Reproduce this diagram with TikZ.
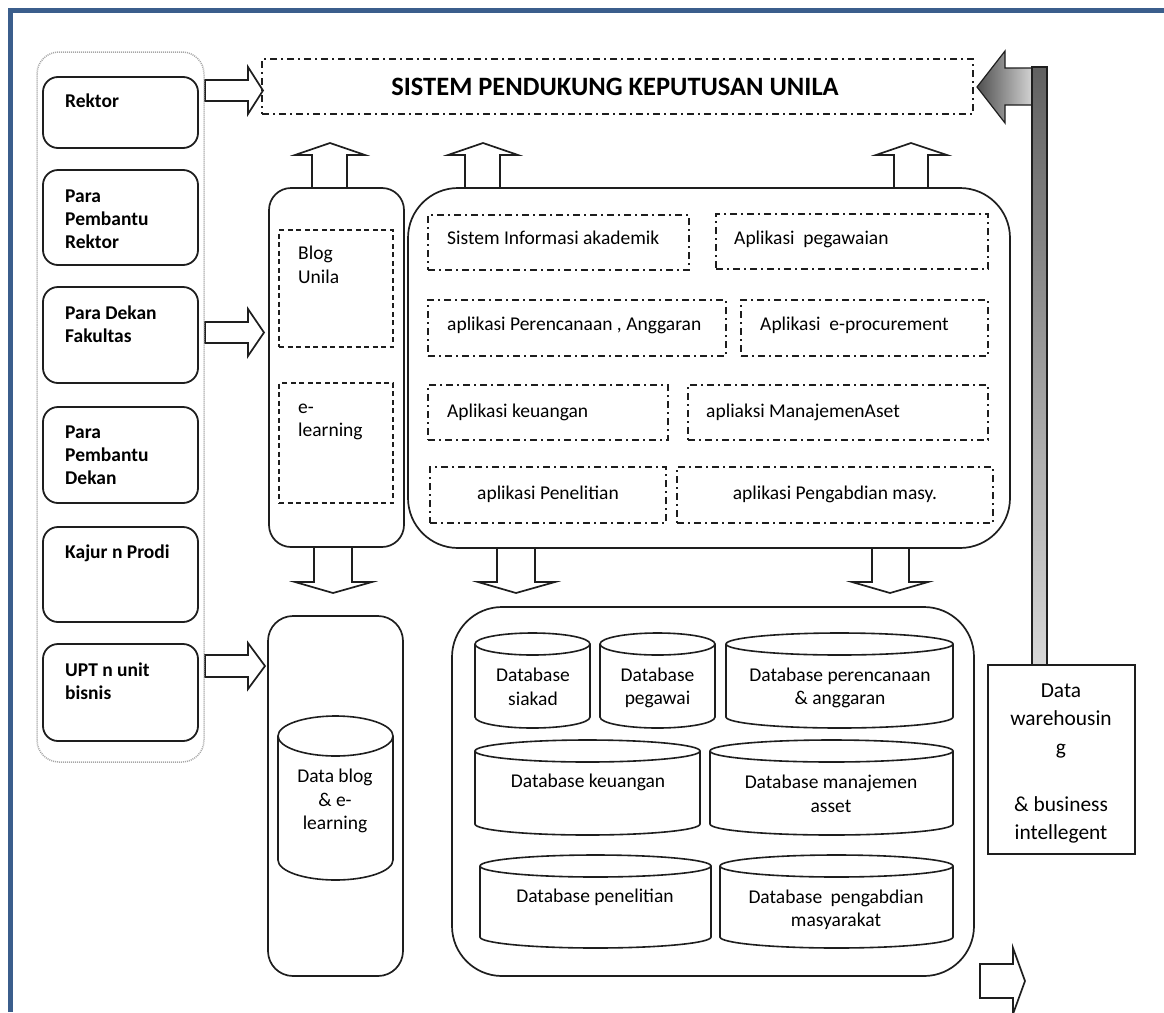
\documentclass[tikz,border=0pt]{standalone}
\usepackage{fontspec}
\setmainfont{Carlito}
\definecolor{bordercol}{RGB}{59,94,140}
\definecolor{ln}{RGB}{30,30,30}
\definecolor{gdark}{RGB}{80,80,80}
\definecolor{glight}{RGB}{215,215,215}
\newcommand\dbcyl[5]{% x1, ytop, x2, ybot, ry
  \draw[cyl] ({#1},{#2+#5}) -- ({#1},{#4-#5})
    .. controls ({#1},{#4-0.448*#5}) and ({(#1+#3)/2-0.552*(#3-#1)/2},{#4}) .. ({(#1+#3)/2},{#4})
    .. controls ({(#1+#3)/2+0.552*(#3-#1)/2},{#4}) and ({#3},{#4-0.448*#5}) .. ({#3},{#4-#5})
    -- ({#3},{#2+#5});
  \draw[cyl] ({(#1+#3)/2},{#2+#5}) ellipse [x radius={(#3-#1)/2}, y radius={#5}];
}
\tikzset{
  lbox/.style={draw=ln, line width=1.8pt, rounded corners=15pt, rectangle, inner sep=0pt},
  cont/.style={draw=gray!70, line width=1.5pt, dash pattern=on 1pt off 1pt, rounded corners=22pt, rectangle, inner sep=0pt},
  ddbox/.style={draw=ln, line width=2.2pt, dash pattern=on 7pt off 4pt on 2pt off 4pt, rectangle, inner sep=0pt},
  dbox/.style={draw=ln, line width=1.7pt, dash pattern=on 5pt off 3.5pt, rectangle, inner sep=0pt},
  bigbox/.style={draw=ln, line width=1.7pt, rounded corners=#1, rectangle, inner sep=0pt},
  harrow/.style={draw=ln, line width=1.7pt, fill=white, line join=miter},
  cyl/.style={draw=ln, line width=1.6pt},
  lt/.style={font=\bfseries\fontsize{19.5}{23}\selectfont, align=left, inner sep=0pt, anchor=north west},
  tt/.style={font=\fontsize{19.5}{23.5}\selectfont, inner sep=0pt},
  one/.style={text height=13pt, text depth=4pt},
}
\begin{document}
\begin{tikzpicture}[x=1pt,y=-1pt]
\useasboundingbox (0,0) rectangle (1164,1012);
\fill[white] (0,0) rectangle (1164,1012);

% ---- hollow arrows (drawn first) ----
\draw[harrow] (205,80) -- (248,80) -- (248,67) -- (263,90.5) -- (248,114) -- (248,101) -- (205,101) -- cycle;
\draw[harrow] (205,322) -- (248,322) -- (248,309) -- (264,332.5) -- (248,356) -- (248,343) -- (205,343) -- cycle;
\draw[harrow] (205,655) -- (248,655) -- (248,643) -- (265,666) -- (248,689) -- (248,677) -- (205,677) -- cycle;

\draw[harrow] (312,188) -- (312,155) -- (295,155) -- (330,143) -- (365,155) -- (347,155) -- (347,188);
\draw[harrow] (465,188) -- (465,155) -- (448,155) -- (483,143) -- (518,155) -- (500,155) -- (500,188);
\draw[harrow] (894,188) -- (894,155) -- (876,155) -- (911,143) -- (947,155) -- (928,155) -- (928,188);

\draw[harrow] (314,547) -- (314,582) -- (295,582) -- (333,593) -- (372,582) -- (352,582) -- (352,547);
\draw[harrow] (497,548) -- (497,582) -- (478,582) -- (516,593) -- (555,582) -- (535,582) -- (535,548);
\draw[harrow] (872,548) -- (872,582) -- (852,582) -- (890,593) -- (928,582) -- (909,582) -- (909,548);

\draw[harrow] (980,964) -- (1013,964) -- (1013,948) -- (1025,981) -- (1013,1014) -- (1013,998) -- (980,998) -- cycle;

% ---- left column ----
\node[cont, minimum width=167pt, minimum height=710pt] (cont) at (120.5,407) {};
\node[lbox, minimum width=155pt, minimum height=71pt] (rektor) at (120.5,112.5) {};
\node[lbox, minimum width=155pt, minimum height=95pt] (ppr) at (120.5,217.5) {};
\node[lbox, minimum width=155pt, minimum height=96pt] (dekan) at (120.5,335) {};
\node[lbox, minimum width=155pt, minimum height=96pt] (ppd) at (120.5,455) {};
\node[lbox, minimum width=155pt, minimum height=95pt] (kajur) at (120.5,574.5) {};
\node[lbox, minimum width=155pt, minimum height=97pt] (upt) at (120.5,692.5) {};
\node[lt] (trektor) at (65,94) {Rektor};
\node[lt] (tppr) at (65,190) {Para\\Pembantu\\Rektor};
\node[lt] (tdekan) at (65,306) {Para Dekan\\Fakultas};
\node[lt] (tppd) at (65,426) {Para\\Pembantu\\Dekan};
\node[lt] (tkajur) at (65,545) {Kajur n Prodi};
\node[lt] (tupt) at (65,663) {UPT n unit\\bisnis};

% ---- title ----
\node[ddbox, minimum width=711pt, minimum height=55pt] (titlebox) at (617.5,86.5) {};
\node[font=\bfseries\fontsize{26.5}{30}\selectfont, inner sep=0pt] (title) at (615,87) {SISTEM PENDUKUNG KEPUTUSAN UNILA};

% ---- blog column ----
\node[bigbox=22pt, minimum width=135pt, minimum height=359pt] (blogcol) at (336.5,367.5) {};
\node[dbox, minimum width=114pt, minimum height=117pt] (blogbox) at (336,288.5) {};
\node[dbox, minimum width=114pt, minimum height=120pt] (elbox) at (336,443) {};
\node[tt, align=left, anchor=north west] (tblog) at (298,246) {Blog\\Unila};
\node[tt, align=left, anchor=north west] (tel) at (298,403.5) {e-\\learning};

\node[bigbox=25pt, minimum width=135pt, minimum height=360pt] (blogdb) at (335.5,796) {};
\dbcyl{278}{716}{393}{880}{20}
\node[tt, align=center] (tblogdb) at (335,801) {Data blog\\\& e-\\learning};

% ---- applications ----
\node[bigbox=50pt, minimum width=602pt, minimum height=360pt] (apps) at (709,368) {};
\node[ddbox, minimum width=261pt, minimum height=55pt] (sia) at (558.5,242.5) {};
\node[ddbox, minimum width=272pt, minimum height=55pt] (peg) at (852,241.5) {};
\node[ddbox, minimum width=298pt, minimum height=56pt] (ren) at (577,328) {};
\node[ddbox, minimum width=247pt, minimum height=56pt] (proc) at (864.5,328) {};
\node[ddbox, minimum width=240pt, minimum height=55pt] (keu) at (548,412.5) {};
\node[ddbox, minimum width=300pt, minimum height=55pt] (aset) at (838,412.5) {};
\node[ddbox, minimum width=236pt, minimum height=56pt] (pen) at (548,495) {};
\node[ddbox, minimum width=316pt, minimum height=56pt] (abd) at (835,495) {};
\node[tt, one, anchor=west] (tsia) at (447,240) {Sistem Informasi akademik};
\node[tt, one, anchor=west] (tpeg) at (734,240) {Aplikasi\ \ pegawaian};
\node[tt, one, anchor=west] (tren) at (447,326) {aplikasi Perencanaan , Anggaran};
\node[tt, one, anchor=west] (tproc) at (760,326) {Aplikasi\ \ e-procurement};
\node[tt, one, anchor=west] (tkeu) at (447,413) {Aplikasi keuangan};
\node[tt, one, anchor=west] (taset) at (706,413) {apliaksi ManajemenAset};
\node[tt, one] (tpen) at (548,495) {aplikasi Penelitian};
\node[tt, one] (tabd) at (835,495) {aplikasi Pengabdian masy.};

% ---- databases ----
\node[bigbox=50pt, minimum width=522pt, minimum height=369pt] (dbs) at (713,791.5) {};
\dbcyl{475}{633}{590}{728}{11}
\dbcyl{600}{633}{715}{728}{11}
\dbcyl{726}{633}{953}{728}{11}
\dbcyl{475}{740}{700}{835}{11}
\dbcyl{710}{740}{953}{835}{11}
\dbcyl{480}{855}{711}{948}{11}
\dbcyl{720}{855}{953}{948}{11}
\node[tt, align=center] (tdb1) at (533,687) {Database\\siakad};
\node[tt, align=center] (tdb2) at (657.5,688) {Database\\pegawai};
\node[tt, align=center] (tdb3) at (840,688) {Database perencanaan\\\& anggaran};
\node[tt, one] (tdb4) at (588,783) {Database keuangan};
\node[tt, align=center] (tdb5) at (831,794) {Database manajemen\\asset};
\node[tt, one] (tdb6) at (595,898) {Database penelitian};
\node[tt, align=center] (tdb7) at (836,910) {Database\hspace{4pt} pengabdian\\masyarakat};

% ---- data warehouse ----
\node[draw=ln, line width=1.7pt, minimum width=147pt, minimum height=189pt, inner sep=0pt] (dw) at (1061.5,759.5) {};
\node[font=\fontsize{21.4}{28.5}\selectfont, align=center, inner sep=0pt] (tdw) at (1061,763.5) {Data\\warehousin\\g\\[28.5pt]\& business\\intellegent};

% gray arrow
\shade[draw=ln, line width=1.2pt, left color=gdark, right color=glight] (1034,68) -- (1005,68) -- (1005,51) -- (977,87) -- (1005,123) -- (1005,105) -- (1034,105) -- cycle;
\shade[draw=ln, line width=1.2pt, top color=gdark!90, bottom color=glight] (1032,67) rectangle (1047,665);

% ---- blue frame ----
\fill[bordercol] (8,8) rectangle (1164,13);
\fill[bordercol] (8,8) rectangle (13,1012);
\end{tikzpicture}
\end{document}
